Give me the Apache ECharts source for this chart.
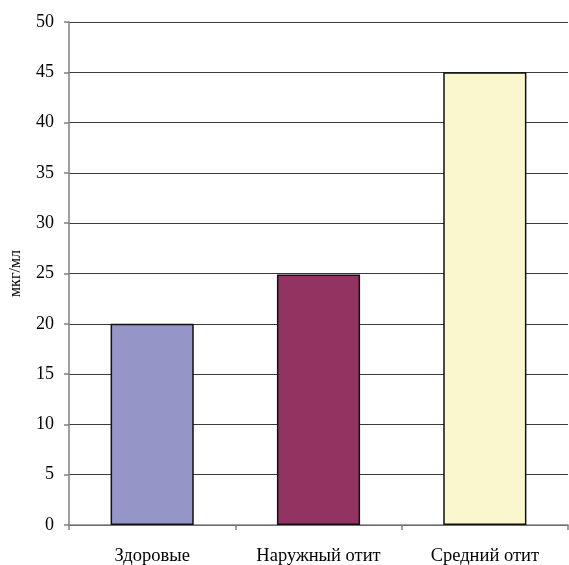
<!DOCTYPE html>
<html>
<head>
<meta charset="utf-8">
<script src="https://cdn.jsdelivr.net/npm/echarts@6/dist/echarts.min.js"></script>
<style>
  html, body { margin: 0; padding: 0; background: #fff; }
  #chart { width: 569px; height: 565px; }
</style>
</head>
<body>
<div id="chart"></div>
<script>
// Groups and measured concentrations
const categories = ['Здоровые', 'Наружный отит', 'Средний отит'];
const values = [20, 24.9, 45];
const barColors = ['#9595C8', '#933361', '#FAF6CD'];
const yTicks = [0, 5, 10, 15, 20, 25, 30, 35, 40, 45, 50];

const font = '"Liberation Serif", "Times New Roman", serif';

const chart = echarts.init(document.getElementById('chart'), null, { renderer: 'canvas' });
chart.setOption({
  animation: false,
  grid: { left: 69, right: 1, top: 22, bottom: 40, containLabel: false, outerBoundsMode: 'none' },
  xAxis: {
    type: 'category',
    data: categories,
    axisLine: { lineStyle: { color: '#808080', width: 1.5 } },
    axisTick: { show: true, alignWithLabel: false, length: 5, lineStyle: { color: '#808080', width: 1.5 } },
    axisLabel: { color: '#000', fontFamily: font, fontSize: 18.5, margin: 22 },
    splitLine: { show: false }
  },
  yAxis: {
    type: 'value',
    min: yTicks[0],
    max: yTicks[yTicks.length - 1],
    interval: 5,
    name: 'мкг/мл',
    nameLocation: 'middle',
    nameGap: 45,
    nameRotate: 90,
    nameTextStyle: { color: '#000', fontFamily: font, fontSize: 16 },
    axisLine: { show: true, lineStyle: { color: '#808080', width: 1.5 } },
    axisTick: { show: true, length: 5, lineStyle: { color: '#808080', width: 1.5 } },
    axisLabel: { color: '#000', fontFamily: font, fontSize: 18, margin: 15 },
    splitLine: { show: true, lineStyle: { color: '#3a3a3a', width: 1 } }
  },
  series: [{
    type: 'bar',
    data: values.map((v, i) => ({
      value: v,
      itemStyle: { color: barColors[i] }
    })),
    barWidth: '50%',
    itemStyle: { borderColor: '#111', borderWidth: 1.5 }
  }]
});
</script>
</body>
</html>
